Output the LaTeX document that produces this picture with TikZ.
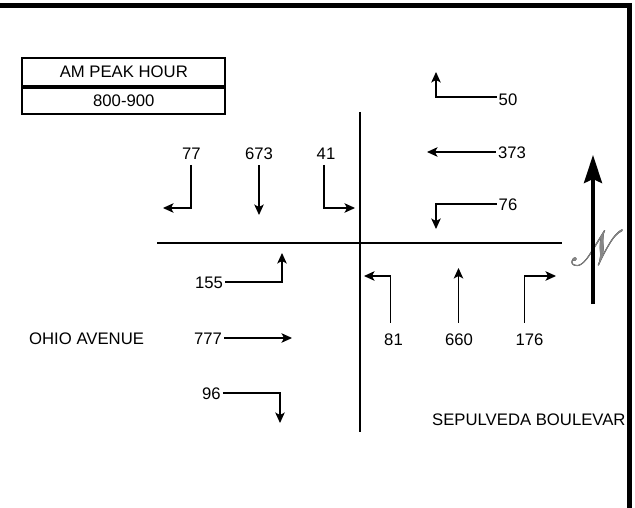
\documentclass[tikz,border=0pt]{standalone}
\usepackage{fontspec}
\setmainfont{Liberation Sans}
\usepackage{mathrsfs}
\usepackage{pdfrender}
\usetikzlibrary{arrows.meta}
\definecolor{ngray}{RGB}{135,135,135}
\newcommand{\northglyph}{%
  \fontsize{24.88}{26}\selectfont
  \rlap{\textpdfrender{TextRenderingMode=FillStroke,LineWidth=3.0,FillColor=black,StrokeColor=black,LineJoin=1}{$\mathscr{N}$}}%
  \textpdfrender{TextRenderingMode=FillStroke,LineWidth=2.0,FillColor=ngray,StrokeColor=ngray,LineJoin=1}{\color{ngray}$\mathscr{N}$}}
\tikzset{
  lab/.style={inner sep=2pt, font=\fontsize{16.7}{20}\selectfont},
  arr/.style={line width=1.2pt, -{Stealth[length=10.5pt,width=9.5pt,inset=2.5pt]}},
  road/.style={line width=2.4pt},
  frame/.style={line width=4.6pt},
  hdrbox/.style={draw, line width=1.8pt, minimum width=203pt, inner sep=0pt, font=\fontsize{16.7}{20}\selectfont}
}
\begin{document}
\begin{tikzpicture}[x=1pt,y=-1pt]
\useasboundingbox (0,0) rectangle (635,508);
% frame (top and right)
\draw[frame] (0,5.3) -- (629.5,5.3);
\draw[frame] (629.3,3) -- (629.3,508);
% header box
\node[hdrbox, minimum height=28pt] (hdr) at (123.8,72) {AM PEAK HOUR};
\node[hdrbox, minimum height=26pt, anchor=north] (tim) at (hdr.south) {800-900};
% roads
\draw[road] (157,243) -- (562,243);
\draw[road] (360,112) -- (360,432);
% southbound (top-left)
\node[lab] (l77) at (191.5,154) {77};
\node[lab] (l673) at (259,154) {673};
\node[lab] (l41) at (326,154) {41};
\coordinate (e77) at (163,208);
\coordinate (e673) at (259,215);
\coordinate (e41) at (355,208);
\draw[arr] ([xshift=-0.5pt,yshift=-3pt]l77.south) |- (e77);
\draw[arr] ([yshift=-3pt]l673.south) -- (e673);
\draw[arr] ([xshift=-2pt,yshift=-3pt]l41.south) |- (e41);
% westbound (top-right)
\node[lab] (l50) at (508,99.5) {50};
\node[lab] (l373) at (512,152.5) {373};
\node[lab] (l76) at (508,205) {76};
\coordinate (e50) at (436,72);
\coordinate (e373) at (427,152);
\coordinate (e76) at (436,229);
\draw[arr] ([yshift=2.5pt]l50.west) -| (e50);
\draw[arr] ([yshift=0.5pt]l373.west) -- (e373);
\draw[arr] ([yshift=1pt]l76.west) -| (e76);
% eastbound (bottom-left)
\node[lab] (l155) at (209,283) {155};
\node[lab] (l777) at (208,338.5) {777};
\node[lab] (l96) at (211.5,393.5) {96};
\coordinate (e155) at (282,253);
\coordinate (e777) at (292,338);
\coordinate (e96) at (280,423);
\draw[arr] ([yshift=1pt]l155.east) -| (e155);
\draw[arr] ([yshift=0.5pt]l777.east) -- (e777);
\draw[arr] ([yshift=0.5pt]l96.east) -| (e96);
% northbound (bottom-right)
\node[lab] (l81) at (393.5,339.5) {81};
\node[lab] (l660) at (459,339.5) {660};
\node[lab] (l176) at (529.5,339.5) {176};
\coordinate (e81) at (364,276);
\coordinate (e660) at (458.5,268);
\coordinate (e176) at (556,276);
\draw[arr] ([xshift=-3pt,yshift=8.5pt]l81.north) |- (e81);
\draw[arr] ([xshift=-0.5pt,yshift=8.5pt]l660.north) -- (e660);
\draw[arr] ([xshift=-5pt,yshift=8.5pt]l176.north) |- (e176);
% street names
\node[lab, anchor=west] (ohio) at (27,339) {OHIO AVENUE};
\node[lab, anchor=west] (sep) at (430,420) {SEPULVEDA BOULEVAR};
% north arrow (glyph behind the shaft)
\node[inner sep=0pt] (north) at (597.5,248) {\scalebox{1.75}[2.0]{\northglyph}};
\coordinate (ns) at (593,304);
\coordinate (nn) at (593,155);
\draw[line width=4pt, -{Stealth[length=28pt,width=18pt,inset=4pt]}] (ns) -- (nn);
\end{tikzpicture}
\end{document}
